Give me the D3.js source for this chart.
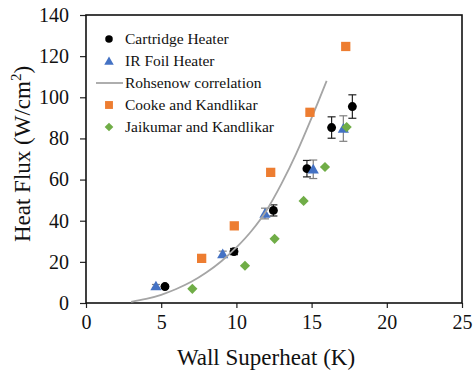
<!DOCTYPE html>
<html>
<head>
<meta charset="utf-8">
<script src="https://cdn.jsdelivr.net/npm/d3@7"></script>
<style>
  html, body { margin: 0; padding: 0; background: #fff; }
  svg { display: block; }
</style>
</head>
<body>
<svg id="chart" width="473" height="370"></svg>
<script>
// Boiling curve: heat flux vs wall superheat
const xTicks = [0, 5, 10, 15, 20, 25];
const yTicks = [0, 20, 40, 60, 80, 100, 120, 140];

const cartridgeX = [5.25, 9.84, 12.46, 14.69, 16.33, 17.71];
const cartridgeY = [8.0, 25.0, 45.0, 65.3, 85.3, 95.5];
const cartridgeErr = [0.8, 1.5, 2.7, 4.0, 5.2, 5.7];

const irX = [4.65, 9.09, 11.9, 15.11, 17.11];
const irY = [8.2, 23.8, 43.5, 65.0, 84.8];
const irErr = [0.8, 1.4, 2.6, 4.5, 6.2];

const rohsenowX = [3, 4, 5, 6, 7, 8, 9, 10, 11, 12, 13, 14, 15, 16];
const rohsenowY = [0.6, 2.0, 4.0, 6.8, 10.3, 14.8, 20.3, 27.0, 35.0, 45.0, 58.0, 73.0, 90.0, 108.0];

const cookeX = [7.69, 9.86, 12.28, 14.89, 17.27];
const cookeY = [21.7, 37.5, 63.5, 92.7, 124.7];

const jaikumarX = [7.07, 10.57, 12.54, 14.47, 15.89, 17.33];
const jaikumarY = [6.9, 18.1, 31.2, 49.6, 66.1, 85.5];

const legendLabels = ["Cartridge Heater", "IR Foil Heater", "Rohsenow correlation",
                      "Cooke and Kandlikar", "Jaikumar and Kandlikar"];

const colors = { black: "#000000", blue: "#4472C4", gray: "#A5A5A5", orange: "#ED7D31", green: "#70AD47" };
const FONT = '"Liberation Serif", "Times New Roman", serif';

(function draw() {
  const svg = d3.select("#chart");
  const mLeft = 86, mRight = 462, mTop = 15, mBottom = 303;

  const x = d3.scaleLinear().domain([0, 25]).range([mLeft, mRight]);
  const y = d3.scaleLinear().domain([0, 140]).range([mBottom, mTop]);

  // Axes
  const xAxis = svg.append("g").attr("transform", `translate(0,${mBottom})`)
    .call(d3.axisBottom(x).tickValues(xTicks).tickSize(5).tickSizeOuter(0).tickPadding(6));
  const yAxis = svg.append("g").attr("transform", `translate(${mLeft},0)`)
    .call(d3.axisLeft(y).tickValues(yTicks).tickSize(6).tickSizeOuter(0).tickPadding(11));
  [xAxis, yAxis].forEach(a => {
    a.attr("font-family", null);
    a.selectAll("text").attr("font-size", 20).attr("fill", "#111")
      .style("font-family", FONT);
    a.selectAll("line").attr("stroke", "#222").attr("stroke-width", 1.2);
    a.select(".domain").remove();
  });
  xAxis.selectAll("text").attr("dy", "0.75em");

  // Plot frame
  svg.append("rect")
    .attr("x", mLeft).attr("y", mTop)
    .attr("width", mRight - mLeft).attr("height", mBottom - mTop)
    .attr("fill", "none").attr("stroke", "#111").attr("stroke-width", 1.6);

  // Axis titles
  svg.append("text")
    .attr("x", (mLeft + mRight) / 2 - 8).attr("y", 365)
    .attr("text-anchor", "middle").attr("font-size", 23).attr("fill", "#111")
    .style("font-family", FONT)
    .text("Wall Superheat (K)");

  const yt = svg.append("text")
    .attr("transform", `translate(30,${(mTop + mBottom) / 2 - 5}) rotate(-90)`)
    .attr("text-anchor", "middle").attr("font-size", 23).attr("fill", "#111")
    .style("font-family", FONT);
  yt.append("tspan").text("Heat Flux (W/cm");
  yt.append("tspan").attr("font-size", 15).attr("dy", -9).text("2");
  yt.append("tspan").attr("dy", 9).text(")");

  // Marker shapes (diamond = square turned 45°)
  const sym = {
    circle: { d: d3.symbol().type(d3.symbolCircle).size(62)(), rot: 0 },
    triangle: { d: d3.symbol().type(d3.symbolTriangle).size(54)(), rot: 0 },
    square: { d: d3.symbol().type(d3.symbolSquare).size(86)(), rot: 0 },
    diamond: { d: d3.symbol().type(d3.symbolSquare).size(52)(), rot: 45 }
  };

  function errorBars(xs, ys, errs, color) {
    const g = svg.append("g").attr("stroke", color).attr("stroke-width", 1.2);
    xs.forEach((xv, i) => {
      const cx = x(xv), y1 = y(ys[i] + errs[i]), y2 = y(ys[i] - errs[i]);
      g.append("line").attr("x1", cx).attr("x2", cx).attr("y1", y1).attr("y2", y2);
      g.append("line").attr("x1", cx - 4).attr("x2", cx + 4).attr("y1", y1).attr("y2", y1);
      g.append("line").attr("x1", cx - 4).attr("x2", cx + 4).attr("y1", y2).attr("y2", y2);
    });
  }

  function markers(xs, ys, shape, color, dy) {
    svg.append("g").selectAll("path").data(xs.map((v, i) => [v, ys[i]])).join("path")
      .attr("d", shape.d)
      .attr("transform", d => `translate(${x(d[0])},${y(d[1]) + (dy || 0)}) rotate(${shape.rot})`)
      .attr("fill", color);
  }

  // Cartridge heater
  errorBars(cartridgeX, cartridgeY, cartridgeErr, "#222");
  markers(cartridgeX, cartridgeY, sym.circle, colors.black);

  // IR foil heater
  errorBars(irX, irY, irErr, "#7f7f7f");
  markers(irX, irY, sym.triangle, colors.blue, 1);

  // Rohsenow correlation
  svg.append("path")
    .datum(rohsenowX.map((v, i) => [v, rohsenowY[i]]))
    .attr("d", d3.line().x(d => x(d[0])).y(d => y(d[1])).curve(d3.curveMonotoneX))
    .attr("fill", "none").attr("stroke", colors.gray).attr("stroke-width", 1.8);

  // Literature data
  markers(cookeX, cookeY, sym.square, colors.orange);
  markers(jaikumarX, jaikumarY, sym.diamond, colors.green);

  // Legend
  const legend = svg.append("g");
  const rowY = i => 39 + i * 22;
  const legendMarks = [
    { shape: sym.circle, color: colors.black },
    { shape: sym.triangle, color: colors.blue },
    null,
    { shape: sym.square, color: colors.orange },
    { shape: sym.diamond, color: colors.green }
  ];
  legendLabels.forEach((lab, i) => {
    const m = legendMarks[i];
    if (m) {
      legend.append("path").attr("d", m.shape.d)
        .attr("transform", `translate(109,${rowY(i) + (i === 1 ? 1 : 0)}) rotate(${m.shape.rot}) scale(0.85)`)
        .attr("fill", m.color);
    } else {
      legend.append("line").attr("x1", 96).attr("x2", 123)
        .attr("y1", rowY(i)).attr("y2", rowY(i))
        .attr("stroke", colors.gray).attr("stroke-width", 1.8);
    }
    legend.append("text").attr("x", 125).attr("y", rowY(i) + 5)
      .attr("font-size", 15.5).attr("fill", "#111")
      .style("font-family", FONT).text(lab);
  });
})();
</script>
</body>
</html>
